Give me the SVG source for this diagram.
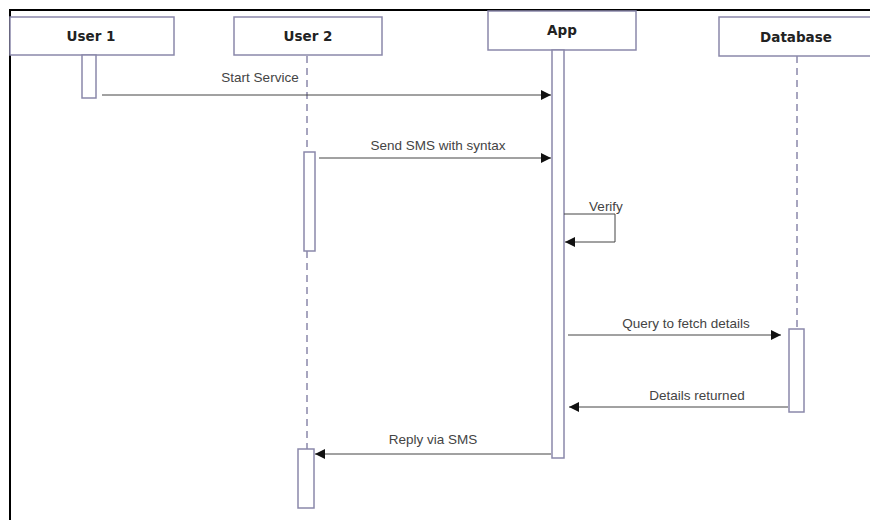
<svg xmlns="http://www.w3.org/2000/svg" width="870" height="520" viewBox="0 0 870 520">
<defs>
<style>
.box{fill:#fff;stroke:#8a88aa;stroke-width:1.5}
.act{fill:#fff;stroke:#8a88aa;stroke-width:1.5}
.life{stroke:#8a88aa;stroke-width:1.5;stroke-dasharray:7,5;fill:none}
.msg{stroke:#444;stroke-width:1;fill:none}
.hd{font-family:"DejaVu Sans",sans-serif;font-weight:bold;font-size:13.5px;fill:#222;text-anchor:middle}
.lb{font-family:"Liberation Sans",Arial,sans-serif;font-size:13.5px;fill:#444;text-anchor:middle}
</style>
<marker id="ah" viewBox="0 0 10 10" refX="10" refY="5" markerWidth="10" markerHeight="10" markerUnits="userSpaceOnUse" orient="auto">
<path d="M0,0 L10,5 L0,10 z" fill="#111"/>
</marker>
</defs>
<rect width="870" height="520" fill="#fff"/>
<path d="M10,520 V10 H870" fill="none" stroke="#000" stroke-width="2"/>
<g id="user1">
<rect class="box" x="10" y="17" width="164" height="38"/>
<text class="hd" x="91" y="41">User 1</text>
<rect class="act" x="82" y="55" width="14" height="43"/>
</g>
<g id="user2">
<rect class="box" x="234" y="17" width="148" height="38"/>
<text class="hd" x="308" y="41">User 2</text>
<line class="life" x1="307" y1="56" x2="307" y2="152"/>
<line class="life" x1="307" y1="251" x2="307" y2="449"/>
<rect class="act" x="304" y="152" width="11" height="99"/>
<rect class="act" x="298" y="449" width="16" height="59"/>
</g>
<g id="app">
<rect class="box" x="488" y="11" width="148" height="39"/>
<text class="hd" x="562" y="35">App</text>
<rect class="act" x="552" y="50" width="12" height="408"/>
</g>
<g id="database">
<rect class="box" x="719" y="17" width="160" height="39"/>
<text class="hd" x="796" y="42">Database</text>
<line class="life" x1="797" y1="56" x2="797" y2="329"/>
<rect class="act" x="789" y="329" width="15" height="83"/>
</g>
<g id="connectors">
<line class="msg" x1="102" y1="95" x2="551" y2="95" marker-end="url(#ah)"/>
<text class="lb" x="260" y="82">Start Service</text>
<line class="msg" x1="319" y1="158" x2="551" y2="158" marker-end="url(#ah)"/>
<text class="lb" x="438" y="150">Send SMS with syntax</text>
<polyline class="msg" points="564,214 615,214 615,242 565,242" marker-end="url(#ah)"/>
<text class="lb" x="606" y="211">Verify</text>
<line class="msg" x1="568" y1="335" x2="781" y2="335" marker-end="url(#ah)"/>
<text class="lb" x="686" y="328">Query to fetch details</text>
<line class="msg" x1="788" y1="407" x2="569" y2="407" marker-end="url(#ah)"/>
<text class="lb" x="697" y="400">Details returned</text>
<line class="msg" x1="551" y1="454" x2="315" y2="454" marker-end="url(#ah)"/>
<text class="lb" x="433" y="444">Reply via SMS</text>
</g>
</svg>
